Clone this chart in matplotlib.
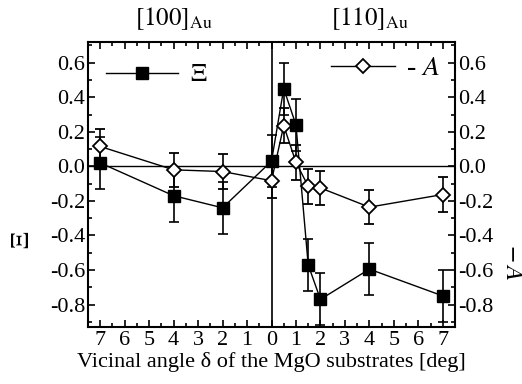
import matplotlib
matplotlib.use("Agg")
import matplotlib.pyplot as plt
from matplotlib.ticker import MultipleLocator, FuncFormatter
from matplotlib.lines import Line2D

plt.rcParams['font.family'] = ['Liberation Serif', 'DejaVu Serif']
plt.rcParams['mathtext.fontset'] = 'stix'
plt.rcParams['axes.unicode_minus'] = False

# Signed vicinal angle: negative = [100]Au side, positive = [110]Au side
angle = [-7, -4, -2, 0, 0.5, 1, 1.5, 2, 4, 7]
xi = [0.02, -0.17, -0.24, 0.03, 0.45, 0.24, -0.57, -0.77, -0.595, -0.75]
xi_err = [0.15, 0.15, 0.15, 0.15, 0.15, 0.15, 0.15, 0.15, 0.15, 0.15]
negA = [0.115, -0.02, -0.03, -0.083, 0.236, 0.023, -0.115, -0.125, -0.236, -0.163]
negA_err = [0.1, 0.1, 0.1, 0.1, 0.1, 0.1, 0.1, 0.1, 0.1, 0.1]
yticks = [-0.8, -0.6, -0.4, -0.2, 0.0, 0.2, 0.4, 0.6]

fig = plt.figure(figsize=(5.22, 3.84), dpi=100)
ax = fig.add_axes([88/522, 57/384, 367/522, 285/384])

ax.axhline(0, color='black', lw=1.0, zorder=1)
ax.axvline(0, color='black', lw=1.2, zorder=1)

ax.errorbar(angle, xi, yerr=xi_err, fmt='-s', color='black', mfc='black',
            mec='black', ms=8, lw=1.0, elinewidth=1.2, capsize=3.5, capthick=1.2, zorder=3)
ax.errorbar(angle, negA, yerr=negA_err, fmt='-D', color='black', mfc='white',
            mec='black', mew=1.3, ms=7.5, lw=1.0, elinewidth=1.2, capsize=3.5, capthick=1.2, zorder=4)

ax.set_xlim(-7.5, 7.5)
ax.set_ylim(-0.93, 0.72)
ax.xaxis.set_major_locator(MultipleLocator(1))
ax.xaxis.set_minor_locator(MultipleLocator(0.5))
ax.xaxis.set_major_formatter(FuncFormatter(lambda v, p: f"{abs(int(round(v)))}"))
ax.set_yticks(yticks)
ax.yaxis.set_minor_locator(MultipleLocator(0.1))
ax.yaxis.set_major_formatter(FuncFormatter(lambda v, p: f"{v:.1f}"))
ax.tick_params(which='both', direction='in', top=True, right=True,
               labelright=True, labelsize=16, width=1.2)
ax.tick_params(which='major', length=5)
ax.tick_params(which='minor', length=3)
ax.tick_params(axis='x', pad=3)
ax.tick_params(axis='y', pad=2)
for s in ax.spines.values():
    s.set_linewidth(1.5)

ax.set_xlabel('Vicinal angle δ of the MgO substrates [deg]', fontsize=16, labelpad=1)
fig.text(23/522, 1 - 240/384, '$\\Xi$', rotation=90, fontsize=19, ha='center', va='center')
fig.text(512/522, 1 - 262/384, '$-\\,A$', rotation=-90, fontsize=18, ha='center', va='center')

ax.text(-4, 1.035, '$[100]_{\\mathrm{Au}}$', transform=ax.get_xaxis_transform(),
        ha='center', va='bottom', fontsize=18)
ax.text(4, 1.035, '$[110]_{\\mathrm{Au}}$', transform=ax.get_xaxis_transform(),
        ha='center', va='bottom', fontsize=18)

h1 = Line2D([], [], color='black', lw=1.0, marker='s', ms=8, mfc='black')
h2 = Line2D([], [], color='black', lw=1.0, marker='D', ms=7.5, mfc='white', mew=1.3)
leg1 = ax.legend([h1], ['$\\Xi$'], loc='upper left', frameon=False, fontsize=18,
                 handlelength=2.9, handletextpad=0.5, numpoints=1,
                 borderaxespad=0.3, bbox_to_anchor=(0.0, 0.985))
ax.add_artist(leg1)
ax.legend([h2], ['- $A$'], loc='upper right', frameon=False, fontsize=20,
          handlelength=2.3, handletextpad=0.4, numpoints=1,
          borderaxespad=0.15, bbox_to_anchor=(1.0, 1.005))

fig.savefig('out.png', dpi=100)
